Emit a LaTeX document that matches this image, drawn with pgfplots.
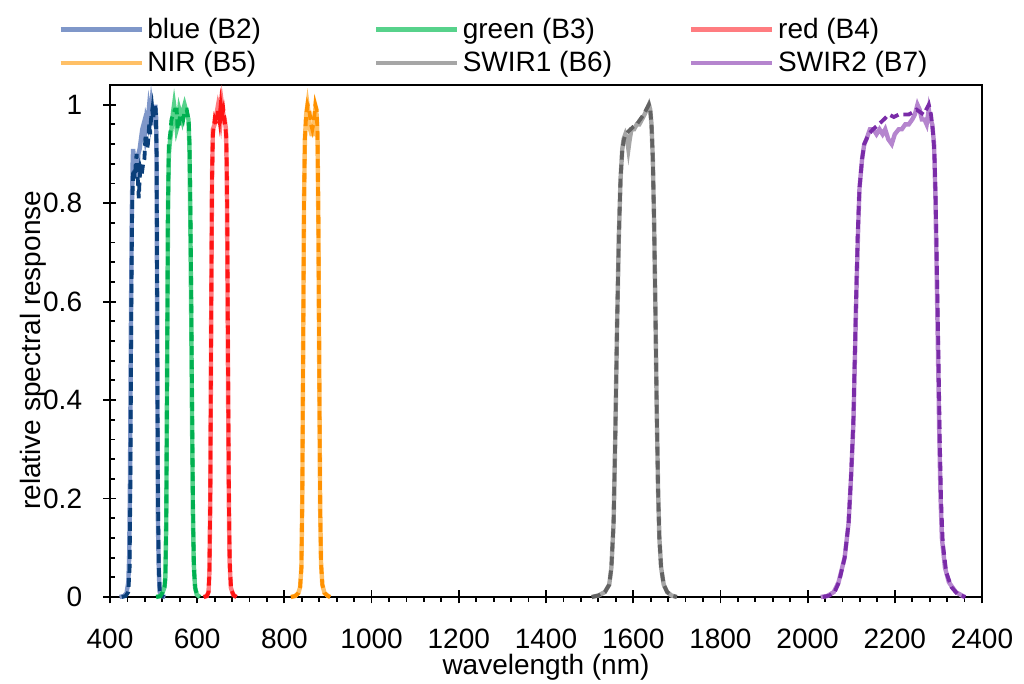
\documentclass[border=0pt]{standalone}
\usepackage{fontspec}
\setmainfont{Liberation Sans}
\usepackage{pgfplots}
\pgfplotsset{compat=1.18}

% light = solid series, dark = dashed series
\definecolor{blueL}{HTML}{7F97C9}
\definecolor{blueD}{HTML}{0B3F7A}
\definecolor{greenL}{HTML}{57D28B}
\definecolor{greenD}{HTML}{00B050}
\definecolor{redL}{HTML}{FF7C80}
\definecolor{redD}{HTML}{FF1414}
\definecolor{nirL}{HTML}{FFC066}
\definecolor{nirD}{HTML}{FF9100}
\definecolor{swaL}{HTML}{A6A6A6}
\definecolor{swaD}{HTML}{626262}
\definecolor{swbL}{HTML}{B585CE}
\definecolor{swbD}{HTML}{7A2BA8}

\newcommand{\chartfont}{\fontsize{14}{16.8}\selectfont}

\pgfplotsset{
  solidband/.style={line width=2.2pt},
  dashband/.style={line width=1.9pt, dash pattern=on 4.5pt off 2.5pt, forget plot},
}

\begin{document}
\begin{tikzpicture}
\begin{axis}[
  scale only axis, width=436pt, height=256pt,
  xmin=400, xmax=2400, ymin=0, ymax=1.04,
  xtick={400,600,...,2400}, ytick={0,0.2,...,1},
  minor x tick num=4, minor y tick num=4,
  xtick pos=bottom, ytick pos=left,
  tick align=center,
  major tick length=6.5pt, minor tick length=2.5pt,
  minor x tick style={yshift=-1.25pt},
  minor y tick style={xshift=1.25pt},
  every tick/.style={black, line width=0.9pt},
  axis line style={line width=0.9pt},
  clip=false,
  /pgf/number format/assume math mode=true,
  /pgf/number format/1000 sep={},
  ticklabel style={font=\chartfont, inner sep=0pt},
  xticklabel style={anchor=north, yshift=-12.5pt},
  yticklabel style={anchor=east, xshift=-10.5pt},
  xlabel={wavelength (nm)},
  ylabel={relative spectral response},
  xlabel style={at={(axis description cs:0.5,0)}, anchor=center, yshift=-35.2pt, font=\chartfont},
  ylabel style={at={([xshift=-38.5pt]axis description cs:0,0.482)}, rotate=0, anchor=center, font=\chartfont},
  legend columns=3,
  legend cell align=left,
  legend image code/.code={\draw[#1] (0pt,0pt) -- (40.5pt,0pt);},
  legend style={at={(0,1)}, anchor=south west, xshift=-25.75pt, yshift=3.5pt,
    draw=none, fill=none, inner sep=0pt, outer sep=0pt,
    nodes={inner sep=1.75pt}, /tikz/column sep=0pt, /tikz/row sep=1.6pt,
    font=\chartfont},
]
% ---- Landsat 8 (solid, light) ----
\addplot[solidband, blueL] coordinates {
(422,0)(432,0.002)(438,0.008)(442,0.03)(444,0.08)(446,0.25)(448,0.55)(450,0.78)(452,0.88)(453,0.91)
(455,0.89)(457,0.87)(459,0.9)(461,0.88)(463,0.87)(465,0.9)(468,0.91)(471,0.93)(474,0.95)(477,0.96)
(480,0.94)(483,0.97)(486,0.96)(489,0.99)(492,0.97)(495,1.0)(498,0.98)(501,0.97)(504,1.0)(506,0.97)
(507,0.85)(508,0.6)(509,0.35)(510,0.15)(512,0.05)(514,0.01)(518,0.002)(527,0)};
\addlegendentry{\makebox[111.5pt][l]{blue (B2)}}
\addplot[solidband, greenL] coordinates {
(506,0)(516,0.002)(521,0.01)(525,0.02)(527,0.04)(529,0.15)(531,0.45)(533,0.78)(535,0.9)(538,0.93)
(541,0.95)(544,0.98)(547,1.0)(550,0.98)(553,0.95)(556,0.96)(559,0.99)(562,0.98)(565,0.97)(568,0.99)
(571,1.0)(574,0.99)(577,0.98)(580,0.97)(582,0.92)(584,0.78)(586,0.6)(588,0.38)(590,0.18)(592,0.07)
(595,0.02)(599,0.005)(606,0)};
\addlegendentry{\makebox[111.5pt][l]{green (B3)}}
\addplot[solidband, redL] coordinates {
(615,0)(622,0.002)(626,0.01)(628,0.05)(630,0.2)(632,0.55)(634,0.85)(636,0.95)(640,0.96)(644,0.98)
(648,1.0)(651,0.99)(654,0.97)(657,1.0)(660,0.98)(663,0.97)(666,0.95)(668,0.85)(670,0.55)(672,0.25)
(674,0.08)(677,0.02)(682,0.005)(690,0)};
\addlegendentry{\makebox[111.5pt][l]{red (B4)}}
\addplot[solidband, nirL] coordinates {
(815,0)(825,0.002)(832,0.008)(836,0.02)(839,0.06)(841,0.2)(843,0.5)(845,0.8)(847,0.93)(850,0.98)
(853,1.0)(856,0.98)(859,0.95)(862,0.94)(865,0.94)(868,0.96)(871,0.99)(874,0.98)(876,0.93)(878,0.75)
(880,0.45)(882,0.18)(884,0.07)(887,0.025)(892,0.008)(900,0.002)(905,0)};
\addlegendentry{\makebox[111.5pt][l]{NIR (B5)}}
\addplot[solidband, swaL] coordinates {
(1505,0)(1520,0.003)(1535,0.01)(1545,0.025)(1550,0.06)(1555,0.15)(1559,0.33)(1563,0.55)(1567,0.73)(1571,0.85)
(1575,0.91)(1578,0.93)(1582,0.94)(1586,0.93)(1589,0.91)(1592,0.93)(1596,0.95)(1602,0.95)(1608,0.96)(1614,0.96)
(1620,0.97)(1626,0.98)(1631,0.99)(1636,1.0)(1639,0.99)(1642,0.96)(1645,0.89)(1648,0.76)(1651,0.58)(1654,0.38)
(1657,0.22)(1660,0.12)(1664,0.06)(1670,0.025)(1678,0.01)(1688,0.003)(1700,0)};
\addlegendentry{\makebox[111.5pt][l]{SWIR1 (B6)}}
\addplot[solidband, swbL] coordinates {
(2030,0)(2045,0.002)(2060,0.01)(2071,0.03)(2085,0.08)(2094,0.15)(2100,0.25)(2105,0.35)(2112,0.62)(2116,0.75)
(2119,0.83)(2125,0.89)(2130,0.92)(2135,0.93)(2143,0.95)(2151,0.95)(2158,0.94)(2165,0.95)(2172,0.94)(2178,0.95)
(2185,0.93)(2193,0.92)(2200,0.94)(2209,0.95)(2216,0.95)(2224,0.96)(2232,0.96)(2240,0.97)(2246,0.98)(2252,1.0)
(2257,0.99)(2262,0.97)(2268,0.97)(2273,0.96)(2278,0.99)(2282,0.97)(2286,0.96)(2290,0.92)(2293,0.82)(2296,0.66)
(2299,0.5)(2302,0.33)(2305,0.2)(2308,0.12)(2315,0.06)(2324,0.03)(2340,0.01)(2360,0)};
\addlegendentry{\makebox[111.5pt][l]{SWIR2 (B7)}}
% ---- Landsat 9 (dashed, dark) ----
\addplot[dashband, blueD] coordinates {
(427,0)(436,0.002)(442,0.01)(445,0.06)(447,0.25)(449,0.6)(451,0.8)(453,0.86)(455,0.87)(457,0.85)
(459,0.88)(461,0.9)(463,0.86)(465,0.83)(466,0.81)(468,0.85)(470,0.87)(473,0.86)(476,0.88)(479,0.89)
(481,0.93)(483,0.94)(485,0.91)(487,0.92)(490,0.96)(492,0.94)(494,0.97)(497,0.99)(499,0.97)(502,1.0)
(505,0.99)(507,0.9)(508,0.65)(509,0.4)(510,0.2)(512,0.06)(514,0.015)(517,0.003)(524,0)};
\addplot[dashband, greenD] coordinates {
(506,0)(516,0.002)(521,0.01)(525,0.02)(527,0.04)(529,0.15)(531,0.45)(533,0.8)(535,0.92)(538,0.94)
(541,0.97)(545,0.98)(549,0.99)(553,0.99)(555,0.95)(558,0.96)(561,0.98)(564,0.98)(568,0.97)(572,0.99)
(576,0.99)(578,0.98)(581,0.96)(583,0.9)(585,0.75)(587,0.55)(589,0.32)(591,0.14)(593,0.05)(596,0.015)
(601,0.003)(606,0)};
\addplot[dashband, redD] coordinates {
(615,0)(622,0.002)(626,0.01)(628,0.05)(630,0.2)(632,0.55)(634,0.85)(636,0.94)(640,0.97)(644,0.96)
(648,0.99)(651,0.97)(654,1.0)(657,0.98)(660,0.99)(664,0.96)(667,0.93)(669,0.78)(671,0.45)(673,0.18)
(675,0.06)(678,0.015)(684,0.003)(690,0)};
\addplot[dashband, nirD] coordinates {
(815,0)(825,0.002)(832,0.008)(836,0.02)(839,0.06)(841,0.2)(843,0.5)(845,0.8)(847,0.93)(850,0.98)
(853,1.0)(857,0.99)(861,0.96)(864,0.95)(868,0.97)(871,1.0)(874,0.99)(876,0.94)(878,0.76)(880,0.46)
(882,0.19)(884,0.07)(887,0.025)(892,0.008)(900,0.002)(905,0)};
\addplot[dashband, swaD] coordinates {
(1505,0)(1520,0.003)(1535,0.01)(1545,0.025)(1550,0.06)(1555,0.15)(1559,0.33)(1563,0.55)(1567,0.73)(1571,0.85)
(1575,0.91)(1579,0.93)(1583,0.94)(1588,0.945)(1594,0.95)(1600,0.955)(1608,0.96)(1616,0.97)(1624,0.98)(1630,0.99)
(1636,1.0)(1639,0.99)(1642,0.96)(1645,0.89)(1648,0.76)(1651,0.58)(1654,0.38)(1657,0.22)(1660,0.12)(1664,0.06)
(1670,0.025)(1678,0.01)(1688,0.003)(1700,0)};
\addplot[dashband, swbD] coordinates {
(2035,0)(2050,0.003)(2062,0.01)(2072,0.03)(2085,0.08)(2094,0.15)(2100,0.25)(2105,0.36)(2111,0.6)(2115,0.74)
(2119,0.83)(2125,0.89)(2130,0.92)(2135,0.93)(2140,0.94)(2150,0.95)(2163,0.96)(2175,0.97)(2186,0.98)(2198,0.975)
(2209,0.98)(2220,0.98)(2232,0.98)(2242,0.985)(2250,0.99)(2258,0.985)(2266,0.98)(2272,0.99)(2278,1.0)(2283,0.98)
(2287,0.95)(2291,0.9)(2294,0.8)(2297,0.65)(2300,0.5)(2303,0.33)(2306,0.2)(2310,0.11)(2318,0.05)(2330,0.02)
(2345,0.005)(2362,0)};
\coordinate (bl) at (rel axis cs:0,0);
\coordinate (tr) at (rel axis cs:1,1);
\end{axis}
\pgfresetboundingbox
\path ([shift={(-55pt,-43.5pt)}]bl) rectangle ([shift={(21pt,42.5pt)}]tr);
\end{tikzpicture}
\end{document}
